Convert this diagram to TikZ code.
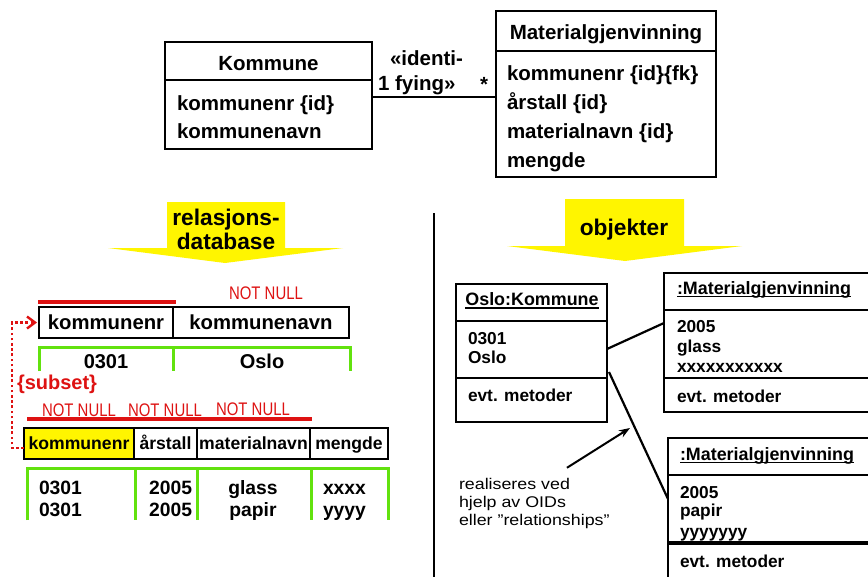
\documentclass[tikz,border=0pt]{standalone}
\usepackage{fontspec}
\setmainfont{Liberation Sans}
\newfontfamily\narrowsans[FakeStretch=0.82]{Liberation Sans}
\newfontfamily\widesans[FakeStretch=1.15]{Liberation Sans}
\usetikzlibrary{arrows.meta}

\definecolor{hiyellow}{RGB}{255,245,0}
\definecolor{keyred}{RGB}{222,18,18}
\definecolor{rowgreen}{RGB}{98,226,14}

\newcommand{\fsz}[1]{\fontsize{#1}{#1}\selectfont}

\begin{document}
\begin{tikzpicture}[x=1pt,y=-1pt,
  every node/.style={inner sep=0pt, outer sep=0pt},
  frame/.style={draw=black, line width=2.6pt, anchor=north west},
  divline/.style={draw=black, line width=2.3pt},
  conn/.style={draw=black, line width=2.2pt},
  umltxt/.style={font=\fsz{20.5}\bfseries, anchor=base west},
  umlhead/.style={font=\fsz{20.5}\bfseries, anchor=base},
  arrowtxt/.style={font=\fsz{22.7}\bfseries, anchor=base},
  nn/.style={font=\fsz{18.2}\narrowsans, text=keyred, anchor=base},
  keyline/.style={draw=keyred, line width=4pt},
  hdrA/.style={draw=black, line width=2.4pt, anchor=north west, minimum height=31pt,
    font=\fsz{20.3}\bfseries, text height=18.7pt, text depth=4.1pt},
  hdrB/.style={draw=black, line width=2.4pt, anchor=north west, minimum height=31pt,
    font=\fsz{17.6}\bfseries, text height=16pt, text depth=3.4pt},
  rowline/.style={draw=rowgreen, line width=3pt},
  dataA/.style={font=\fsz{20}\bfseries, anchor=base},
  dataB/.style={font=\fsz{19.3}\bfseries, anchor=base west},
  objtitle/.style={font=\fsz{17.9}\bfseries, anchor=base west},
  objtxt/.style={font=\fsz{17.3}\bfseries, anchor=base west},
  note/.style={font=\fsz{15.5}\widesans, anchor=base west},
  ul/.style={draw=black, line width=1.8pt}
]
\path[use as bounding box] (0,0) rectangle (868,576);
\clip (0,0) rectangle (868,576);
\fill[white] (0,0) rectangle (868,576);

% ---------- class diagram ----------
\node[frame, minimum width=207pt, minimum height=107pt] (kom) at (165,42) {};
\draw[divline] (165,80) -- (372,80);
\node[umlhead] (komT) at (268.5,70) {Kommune};
\node[umltxt] (komA1) at (177,110) {kommunenr \{id\}};
\node[umltxt] (komA2) at (177,138) {kommunenavn};

\node[frame, minimum width=220pt, minimum height=166pt] (mat) at (496,11) {};
\draw[divline] (496,51) -- (716,51);
\node[umlhead] (matT) at (606,39) {Materialgjenvinning};
\node[umltxt] (matA1) at (507,80) {kommunenr \{id\}\{fk\}};
\node[umltxt] (matA2) at (507,109) {årstall \{id\}};
\node[umltxt] (matA3) at (507,138) {materialnavn \{id\}};
\node[umltxt] (matA4) at (507,167) {mengde};

\draw[conn] ([yshift=-1.5pt]kom.east) -- ([yshift=-1.5pt]kom.east -| mat.west);
\node[umltxt] (st1) at (390,65) {«identi-};
\node[umltxt] (st2) at (378,90) {1 fying»};
\node[umltxt] (mult) at (480,91) {*};

% ---------- yellow arrows ----------
\fill[hiyellow] (167,202) -- (285,202) -- (285,248) -- (343,248) -- (225,263)
  -- (108,248) -- (167,248) -- cycle;
\node[arrowtxt] (relA) at (226,225) {relasjons-};
\node[arrowtxt] (relB) at (226,249) {database};

\fill[hiyellow] (565,199) -- (684,199) -- (684,246) -- (742,246) -- (625,261)
  -- (507,246) -- (565,246) -- cycle;
\node[arrowtxt] (objA) at (624,235) {objekter};

% separator
\draw[line width=2pt] (434,213) -- (434,580);

% ---------- relational tables ----------
\draw[keyline] (38,302) -- (176,302);
\node[nn] (nn1) at (266,299) {NOT NULL};
\node[hdrA, minimum width=134pt] (t1a) at (39,307) {kommunenr};
\node[hdrA, minimum width=176pt] (t1b) at (173,307) {kommunenavn};
\draw[rowline] (39,371) -- (39,347) -- (350,347) -- (350,371);
\draw[rowline] (173,347) -- (173,371);
\node[dataA] (d1a) at (106,368) {0301};
\node[dataA] (d1b) at (262,368) {Oslo};

\draw[keyline] (27,419) -- (312,419);
\node[nn] (nn2) at (79,416) {NOT NULL};
\node[nn] (nn3) at (165,416) {NOT NULL};
\node[nn] (nn4) at (253,415) {NOT NULL};
\node[hdrB, minimum width=110pt, fill=hiyellow] (t2a) at (24,428) {kommunenr};
\node[hdrB, minimum width=63pt] (t2b) at (134,428) {årstall};
\node[hdrB, minimum width=113pt] (t2c) at (197,428) {materialnavn};
\node[hdrB, minimum width=78pt] (t2d) at (310,428) {mengde};
\draw[rowline] (27,520) -- (27,468) -- (388,468) -- (388,520);
\draw[rowline] (135,468) -- (135,520);
\draw[rowline] (197,468) -- (197,520);
\draw[rowline] (311,468) -- (311,520);
\node[dataB] (d2a) at (39,494) {0301};
\node[dataB] (d2b) at (39,516) {0301};
\node[dataB, anchor=base east] (d2c) at (192,494) {2005};
\node[dataB, anchor=base east] (d2d) at (192,516) {2005};
\node[dataB, anchor=base] (d2e) at (253,494) {glass};
\node[dataB, anchor=base] (d2f) at (253,516) {papir};
\node[dataB] (d2g) at (323,494) {xxxx};
\node[dataB] (d2h) at (323,516) {yyyy};

% foreign key
\node[font=\fsz{20}\bfseries, text=keyred, anchor=base west] (subs) at (17,389) {\{subset\}};
\draw[draw=keyred, line width=2.6pt, dash pattern=on 2.6pt off 2.6pt,
  -{Straight Barb[length=8pt,width=12pt,line width=2.4pt]}]
  ([yshift=-4.5pt]t2a.west) -- ++(-12,0) |- ([xshift=-2pt]t1a.west);

% ---------- object diagram ----------
\node[frame, minimum width=151pt, minimum height=138pt] (oslo) at (456,284) {};
\draw[divline] (456,321) -- (607,321);
\draw[divline] (456,378) -- (607,378);
\node[objtitle, anchor=base] (osloT) at (532,305) {Oslo:Kommune};
\draw[ul] ([yshift=-3pt]osloT.base west) -- ([yshift=-3pt]osloT.base east);
\node[objtxt] (o1) at (468,344) {0301};
\node[objtxt] (o2) at (468,363) {Oslo};
\node[objtxt] (o3) at (468,401) {evt. metoder};

\node[frame, minimum width=240pt, minimum height=139pt] (m1) at (664,273) {};
\draw[divline] (664,310) -- (904,310);
\draw[divline] (664,378) -- (904,378);
\node[objtitle] (m1T) at (677,294) {:Materialgjenvinning};
\draw[ul] ([yshift=-2.5pt]m1T.base west) -- ([yshift=-2.5pt]m1T.base east);
\node[objtxt] (m1a) at (677,332) {2005};
\node[objtxt] (m1b) at (677,352) {glass};
\node[objtxt] (m1c) at (677,372) {xxxxxxxxxxx};
\node[objtxt] (m1d) at (677,402) {evt. metoder};

\node[frame, minimum width=240pt, minimum height=160pt] (m2) at (668,438) {};
\draw[divline] (668,475) -- (908,475);
\draw[divline, line width=3.4pt] (668,543) -- (908,543);
\node[objtitle] (m2T) at (680,460) {:Materialgjenvinning};
\draw[ul] ([yshift=-2.5pt]m2T.base west) -- ([yshift=-2.5pt]m2T.base east);
\node[objtxt] (m2a) at (680,498) {2005};
\node[objtxt] (m2b) at (680,516) {papir};
\node[objtxt] (m2c) at (680,537) {yyyyyyy};
\node[objtxt] (m2d) at (680,567) {evt. metoder};

% links between objects
\draw[conn] ([yshift=4pt]oslo.east) -- ([yshift=19.5pt]m1.west);
\draw[conn] ([xshift=2pt,yshift=-19pt]oslo.east) -- ([yshift=19pt]m2.west);

% note with pointer
\node[note] (r1) at (459,489) {realiseres ved};
\node[note] (r2) at (459,507) {hjelp av OIDs};
\node[note] (r3) at (459,525) {eller ”relationships”};
\coordinate (oidtip) at (630,428);
\draw[line width=2pt, -{Stealth[length=11pt,width=8pt]}]
  ([xshift=-3pt,yshift=10pt]r1.north east) -- (oidtip);
\end{tikzpicture}
\end{document}
